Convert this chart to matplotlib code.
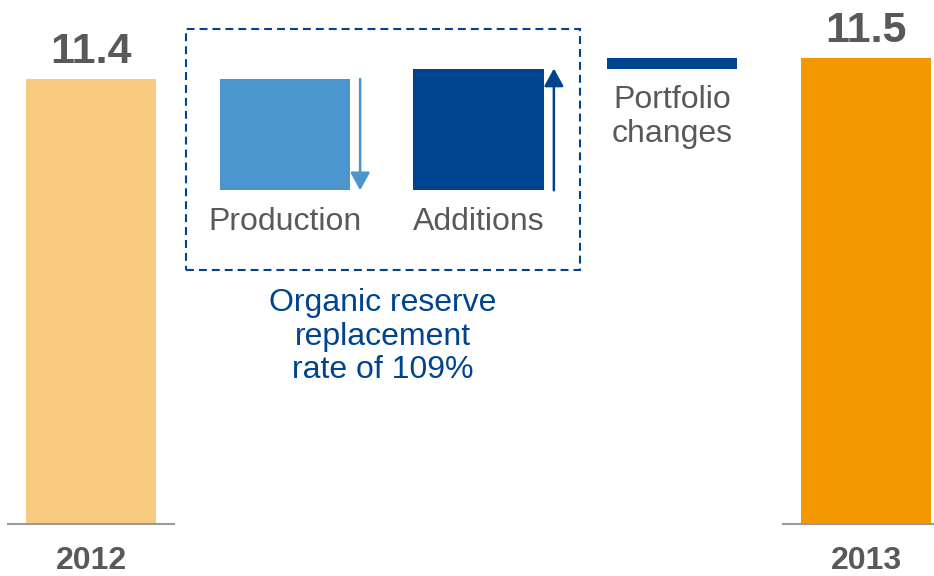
import matplotlib
matplotlib.use("Agg")
import matplotlib.pyplot as plt
from matplotlib.patches import Rectangle

# ---- data -------------------------------------------------------------
year_labels = ["2012", "2013"]
start_value = 11.4
end_value = 11.5
step_names = ["Production", "Additions", "Portfolio changes"]
step_labels = [["Production"], ["Additions"], ["Portfolio", "changes"]]
step_values = [-0.53, 0.58, 0.05]
value_labels = ["11.4", "11.5"]
note_lines = ["Organic reserve", "replacement", "rate of 109%"]

# ---- style ------------------------------------------------------------
FONT = ["Liberation Sans", "DejaVu Sans"]
GREY_TEXT = "#595959"
BLUE_DARK = "#00448f"
BLUE_LIGHT = "#4b96cf"
COL_START = "#f8cb80"
COL_END = "#f39800"
AXIS_FLOOR = 9.283           # bottom of the truncated value axis
BAR_W = 0.671

fig = plt.figure(figsize=(9.34, 5.76), dpi=100)
ax = fig.add_axes([0, 0, 1, 1])
ax.set_xlim(-0.4697, 4.351)
ax.set_ylim(9.0333, 11.7762)
ax.axis("off")

# ---- waterfall geometry ----------------------------------------------
positions = list(range(len(step_values) + 2))
step_colors = [BLUE_LIGHT, BLUE_DARK, BLUE_DARK]

# opening and closing totals
ax.bar(positions[0], start_value - AXIS_FLOOR, bottom=AXIS_FLOOR,
       width=BAR_W, color=COL_START, zorder=2)
ax.bar(positions[-1], end_value - AXIS_FLOOR, bottom=AXIS_FLOOR,
       width=BAR_W, color=COL_END, zorder=2)

# floating steps
level = start_value
step_bottoms = []
for i, (delta, col) in enumerate(zip(step_values, step_colors)):
    lo = min(level, level + delta)
    ax.bar(positions[i + 1], abs(delta), bottom=lo, width=BAR_W,
           color=col, zorder=2)
    step_bottoms.append((lo, level, level + delta))
    level += delta

# direction arrows beside the production and additions bars
arrow_dx = 0.389
for i, col in zip(range(2), [BLUE_LIGHT, BLUE_DARK]):
    lo, y_from, y_to = step_bottoms[i]
    x = positions[i + 1] + arrow_dx
    ax.annotate("", xy=(x, y_to), xytext=(x, y_from),
                arrowprops=dict(arrowstyle="-|>,head_length=0.4,head_width=0.22",
                                mutation_scale=27, lw=1.8, color=col,
                                shrinkA=0, shrinkB=0), zorder=3)

# baseline stubs under the totals
for p in (positions[0], positions[-1]):
    ax.plot([p - 0.435, p + 0.435], [AXIS_FLOOR, AXIS_FLOOR],
            color="#9a9a9a", lw=1.5, solid_capstyle="butt", zorder=3)

# ---- text -------------------------------------------------------------
for p, v, s in zip([positions[0], positions[-1]], [start_value, end_value], value_labels):
    ax.annotate(s, xy=(p, v), xytext=(0, 11.3), textcoords="offset points",
                ha="center", va="baseline", fontsize=31, fontweight="bold",
                color=GREY_TEXT, family=FONT)

for p, s in zip([positions[0], positions[-1]], year_labels):
    ax.annotate(s, xy=(p, AXIS_FLOOR), xytext=(0, -32.6), textcoords="offset points",
                ha="center", va="baseline", fontsize=23, fontweight="bold",
                color=GREY_TEXT, family=FONT)


def stacked(lines, xy, first_offset, step, color):
    for k, line in enumerate(lines):
        ax.annotate(line, xy=xy, xytext=(0, first_offset - k * step),
                    textcoords="offset points", ha="center", va="baseline",
                    fontsize=23, color=color, family=FONT)


for i, lines in enumerate(step_labels):
    lo = step_bottoms[i][0]
    stacked(lines, (positions[i + 1], lo), -28.5, 24.5, GREY_TEXT)

# dashed frame around the organic movements
box_x0, box_x1 = 0.490, 2.524
box_y0, box_y1 = 10.490, 11.638
ax.add_patch(Rectangle((box_x0, box_y0), box_x1 - box_x0, box_y1 - box_y0,
                       fill=False, edgecolor=BLUE_DARK, lw=1.5,
                       linestyle=(0, (3.8, 2.4)), zorder=1))

stacked(note_lines, ((box_x0 + box_x1) / 2, box_y0), -29.5, 24.1, BLUE_DARK)

fig.savefig("out.png", dpi=100, facecolor="white")
